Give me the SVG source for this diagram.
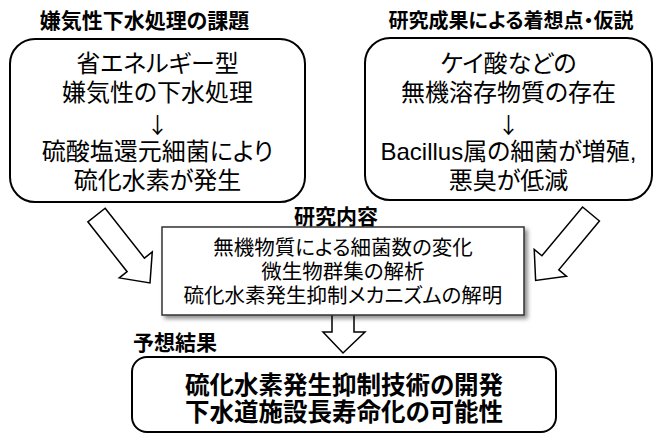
<svg xmlns="http://www.w3.org/2000/svg" width="662" height="435" viewBox="0 0 662 435">
<defs>
<style>
text{font-family:"Liberation Sans","Noto Sans CJK JP",sans-serif;fill:#000;text-anchor:middle;font-feature-settings:"palt"}
.h{font-weight:bold;font-size:20px}
.t{font-size:24px}
.dn{font-family:"Noto Sans CJK JP",sans-serif;font-size:22px;font-feature-settings:normal}
.m{font-size:20.5px}
.b{font-size:24.5px;font-weight:bold}
.rb{fill:#fff;stroke:#000;stroke-width:2}
.ar{fill:#fff;stroke:#000;stroke-width:1.5;stroke-linejoin:miter}
</style>
<filter id="sh" x="-10%" y="-10%" width="125%" height="130%">
<feDropShadow dx="3" dy="3" stdDeviation="2" flood-color="#000" flood-opacity="0.45"/>
</filter>
<polygon id="fat" points="0,-11 63.5,-11 63.5,-21 86.5,0 63.5,21 63.5,11 0,11"/>
</defs>

<g id="connectors">
<use href="#fat" class="ar" transform="translate(96.5,215) rotate(51.8)"/>
<use href="#fat" class="ar" transform="translate(591,214) rotate(129.8)"/>
<polygon class="ar" points="332,312 354,312 354,332 365,332 343,353 323,332 332,332"/>
</g>

<g id="problem">
<text class="h" x="144.5" y="28" style="font-size:21px">嫌気性下水処理の課題</text>
<rect class="rb" x="10" y="39" width="295" height="163" rx="25" ry="25"/>
<text class="t" x="157.5" y="72">省エネルギー型</text>
<text class="t" x="157.5" y="101">嫌気性の下水処理</text>
<text class="dn" x="157.5" y="133">↓</text>
<text class="t" x="157.5" y="160">硫酸塩還元細菌により</text>
<text class="t" x="157.5" y="189">硫化水素が発生</text>
</g>

<g id="hypothesis">
<text class="h" x="511" y="28">研究成果による着想点・仮説</text>
<rect class="rb" x="365" y="38" width="287" height="162" rx="25" ry="25"/>
<text class="t" x="508.5" y="72">ケイ酸などの</text>
<text class="t" x="508.5" y="101">無機溶存物質の存在</text>
<text class="dn" x="508.5" y="133">↓</text>
<text class="t" x="508.5" y="160">Bacillus属の細菌が増殖,</text>
<text class="t" x="508.5" y="189">悪臭が低減</text>
</g>

<g id="research">
<text class="h" x="336" y="224" style="font-size:21px">研究内容</text>
<rect x="162" y="227" width="362" height="88" fill="#fff" stroke="#333" stroke-width="1.5" filter="url(#sh)"/>
<text class="m" x="343" y="255">無機物質による細菌数の変化</text>
<text class="m" x="343" y="279">微生物群集の解析</text>
<text class="m" x="343" y="303">硫化水素発生抑制メカニズムの解明</text>
</g>

<g id="result">
<text class="h" x="175" y="350" style="font-size:21px">予想結果</text>
<rect class="rb" x="132" y="357" width="424" height="75" rx="15" ry="15"/>
<text class="b" x="344" y="394">硫化水素発生抑制技術の開発</text>
<text class="b" x="344" y="421">下水道施設長寿命化の可能性</text>
</g>
</svg>
